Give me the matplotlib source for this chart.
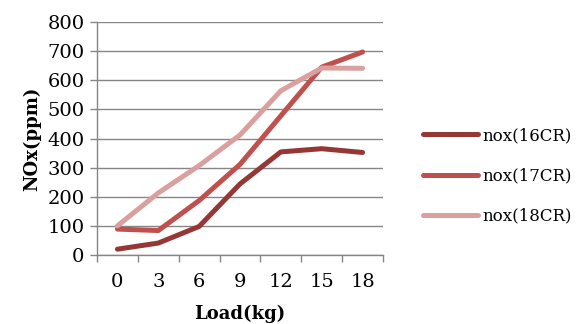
import matplotlib
matplotlib.use("Agg")
import matplotlib.pyplot as plt
import numpy as np

loads = ["0", "3", "6", "9", "12", "15", "18"]
nox_16cr = [20, 41, 98, 244, 354, 365, 352]
nox_17cr = [89, 84, 187, 311, 478, 645, 697]
nox_18cr = [100, 213, 307, 412, 564, 642, 641]
series_names = ["nox(16CR)", "nox(17CR)", "nox(18CR)"]
colors = ["#953735", "#C0504D", "#D9A09E"]

plt.rcParams["font.family"] = ["DejaVu Serif"]

fig = plt.figure(figsize=(5.8, 3.24), dpi=100)
ax = fig.add_axes([97 / 580, 1 - 255 / 324, (383 - 97) / 580, (255 - 22) / 324])

x = np.arange(len(loads))
for vals, name, c in zip([nox_16cr, nox_17cr, nox_18cr], series_names, colors):
    ax.plot(x, vals, color=c, lw=3.6, solid_capstyle="round", label=name)

ax.set_xlim(-0.5, len(loads) - 0.5)
ax.set_ylim(0, 800)
ax.set_yticks(np.arange(0, 801, 100))
ax.set_xticks(x)
ax.set_xticklabels(loads)
ax.set_xticks(np.arange(-0.5, len(loads), 1), minor=True)
ax.tick_params(axis="x", which="major", length=0, labelsize=14, pad=13)
ax.tick_params(axis="x", which="minor", length=5, color="#868686", width=1, direction="out")
ax.tick_params(axis="y", length=5, color="#868686", width=1, labelsize=14, pad=4)

ax.grid(axis="y", color="#868686", lw=1)
ax.set_axisbelow(True)
for s in ["top", "right"]:
    ax.spines[s].set_visible(False)
for s in ["left", "bottom"]:
    ax.spines[s].set_color("#868686")
    ax.spines[s].set_linewidth(1)

ax.set_xlabel("Load(kg)", fontsize=13, fontweight="bold", labelpad=10)
ax.set_ylabel("NOx(ppm)", fontsize=13, fontweight="bold", labelpad=4)

fig.legend(loc="center left", bbox_to_anchor=(408 / 580, 1 - 176 / 324),
           frameon=False, fontsize=12, handlelength=3.3, handletextpad=0.25,
           labelspacing=1.4)

fig.savefig("out.png", dpi=100)
